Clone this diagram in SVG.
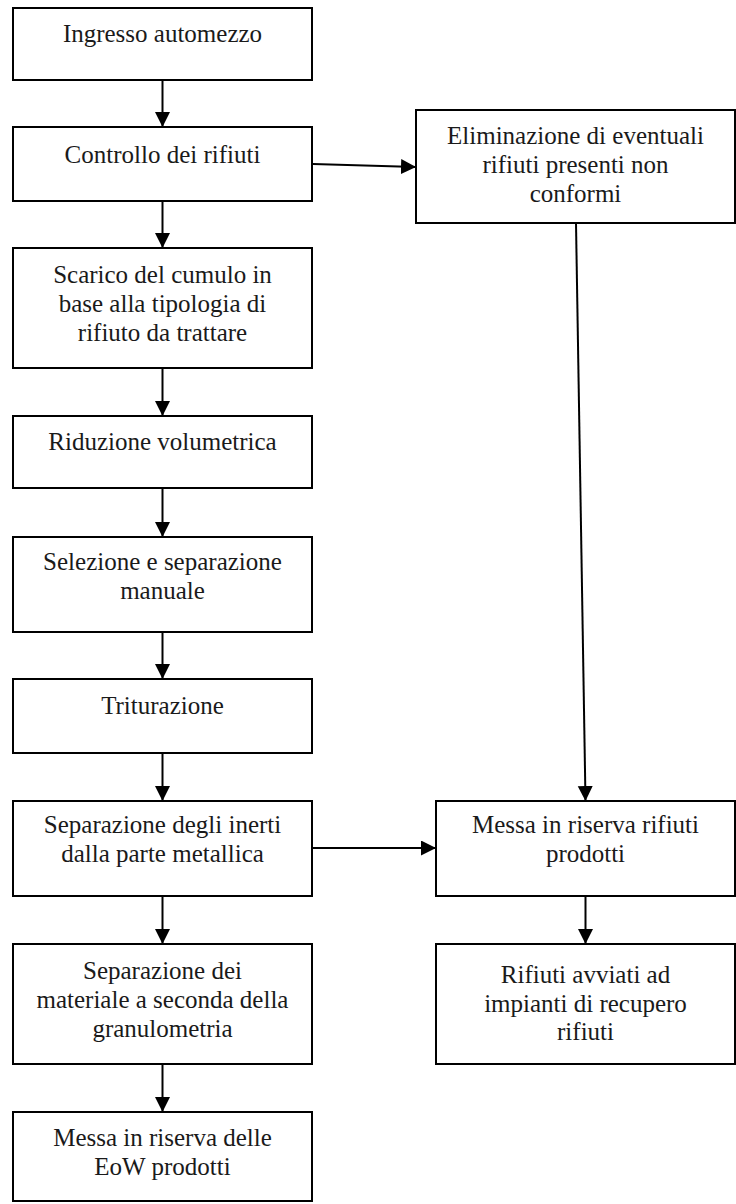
<svg xmlns="http://www.w3.org/2000/svg" width="736" height="1204" viewBox="0 0 736 1204">
<style>
.box{fill:#fff;stroke:#000;stroke-width:2}
.t{font-family:"Liberation Serif","DejaVu Serif",serif;font-size:25px;fill:#1a1a1a;text-anchor:middle}
.c{stroke:#000;stroke-width:2;fill:none;marker-end:url(#ah)}
</style>
<defs>
<marker id="ah" markerUnits="userSpaceOnUse" markerWidth="16" markerHeight="16" refX="15" refY="7.5" orient="auto">
<path d="M0,0 L15,7.5 L0,15 Z" fill="#000"/>
</marker>
</defs>
<rect width="736" height="1204" fill="#fff"/>
<g id="connectors">
<line class="c" x1="162.5" y1="80" x2="162.5" y2="127"/>
<line class="c" x1="162.5" y1="201" x2="162.5" y2="248"/>
<line class="c" x1="162.5" y1="368" x2="162.5" y2="416"/>
<line class="c" x1="162.5" y1="488" x2="162.5" y2="537"/>
<line class="c" x1="162.5" y1="632" x2="162.5" y2="679"/>
<line class="c" x1="162.5" y1="753" x2="162.5" y2="801"/>
<line class="c" x1="162.5" y1="896" x2="162.5" y2="944"/>
<line class="c" x1="162.5" y1="1064" x2="162.5" y2="1112"/>
<line class="c" x1="313" y1="164" x2="416" y2="167"/>
<line class="c" x1="313" y1="848" x2="436" y2="848"/>
<line class="c" x1="576" y1="223" x2="585.5" y2="801"/>
<line class="c" x1="585.5" y1="896" x2="585.5" y2="944"/>
</g>
<g id="n1"><rect class="box" x="13" y="8" width="299" height="72"/><text class="t" x="162.5" y="42">Ingresso automezzo</text></g>
<g id="n2"><rect class="box" x="13" y="127" width="299" height="74"/><text class="t" x="162.5" y="163">Controllo dei rifiuti</text></g>
<g id="n3"><rect class="box" x="13" y="248" width="299" height="120"/><text class="t" x="162.5" y="283">Scarico del cumulo in</text><text class="t" x="162.5" y="312">base alla tipologia di</text><text class="t" x="162.5" y="341">rifiuto da trattare</text></g>
<g id="n4"><rect class="box" x="13" y="416" width="299" height="72"/><text class="t" x="162.5" y="450">Riduzione volumetrica</text></g>
<g id="n5"><rect class="box" x="13" y="537" width="299" height="95"/><text class="t" x="162.5" y="570">Selezione e separazione</text><text class="t" x="162.5" y="599">manuale</text></g>
<g id="n6"><rect class="box" x="13" y="679" width="299" height="74"/><text class="t" x="162.5" y="714">Triturazione</text></g>
<g id="n7"><rect class="box" x="13" y="801" width="299" height="95"/><text class="t" x="162.5" y="833">Separazione degli inerti</text><text class="t" x="162.5" y="862">dalla parte metallica</text></g>
<g id="n8"><rect class="box" x="13" y="944" width="299" height="120"/><text class="t" x="162.5" y="979">Separazione dei</text><text class="t" x="162.5" y="1008">materiale a seconda della</text><text class="t" x="162.5" y="1037">granulometria</text></g>
<g id="n9"><rect class="box" x="13" y="1112" width="299" height="89"/><text class="t" x="162.5" y="1146">Messa in riserva delle</text><text class="t" x="162.5" y="1175">EoW prodotti</text></g>
<g id="n10"><rect class="box" x="416" y="110" width="319" height="113"/><text class="t" x="575.5" y="144">Eliminazione di eventuali</text><text class="t" x="575.5" y="173">rifiuti presenti non</text><text class="t" x="575.5" y="202">conformi</text></g>
<g id="n11"><rect class="box" x="436" y="801" width="299" height="95"/><text class="t" x="585.5" y="833">Messa in riserva rifiuti</text><text class="t" x="585.5" y="862">prodotti</text></g>
<g id="n12"><rect class="box" x="436" y="944" width="299" height="120"/><text class="t" x="585.5" y="983">Rifiuti avviati ad</text><text class="t" x="585.5" y="1012">impianti di recupero</text><text class="t" x="585.5" y="1040">rifiuti</text></g>
</svg>
